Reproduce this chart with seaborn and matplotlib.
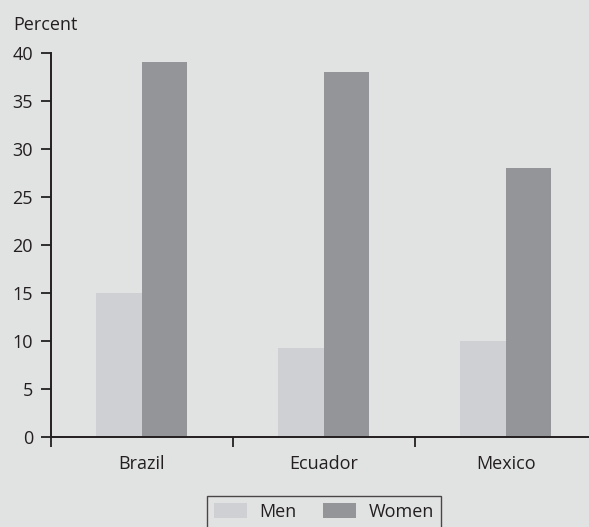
import matplotlib
matplotlib.use("Agg")
import matplotlib.pyplot as plt
import seaborn as sns
import pandas as pd

countries = ["Brazil", "Ecuador", "Mexico"]
groups = ["Men", "Women"]
men = [15, 9.3, 10]
women = [39, 38, 28]
yticks = [0, 5, 10, 15, 20, 25, 30, 35, 40]

bg = "#e1e3e2"
ink = "#231f20"
palette = {"Men": "#cfd0d3", "Women": "#939598"}
fs = 13

df = pd.DataFrame({
    "country": countries * 2,
    "sex": ["Men"] * len(countries) + ["Women"] * len(countries),
    "percent": men + women,
})

sns.set_style("ticks")
plt.rcParams["font.family"] = ["Open Sans", "DejaVu Sans"]
plt.rcParams["text.color"] = ink

fig = plt.figure(figsize=(5.89, 5.27), dpi=100, facecolor=bg)
ax = fig.add_axes([50.7 / 589, 90 / 527, 1 - 50.7 / 589, (437 - 52.7) / 527])
ax.set_facecolor(bg)

sns.barplot(data=df, x="country", y="percent", hue="sex", order=countries,
            hue_order=groups, palette=palette, width=0.5, saturation=1,
            linewidth=0, ax=ax, legend=True)

ax.set_xlim(-0.5, 2.458)
ax.set_ylim(0, 40)
ax.set_yticks(yticks)
ax.set_xlabel("")
ax.set_ylabel("")

# group separators as minor ticks, labels on major ticks
ax.set_xticks([-0.5, 0.5, 1.5], minor=True)
ax.tick_params(axis="x", which="major", length=0, pad=13, labelsize=fs, colors=ink)
ax.tick_params(axis="x", which="minor", length=7.2, width=1.3, direction="out", color=ink)
ax.tick_params(axis="y", length=7.2, width=1.3, direction="out", pad=5.5,
               labelsize=fs, colors=ink)

for s in ["top", "right"]:
    ax.spines[s].set_visible(False)
for s in ["left", "bottom"]:
    ax.spines[s].set_linewidth(1.4)
    ax.spines[s].set_color(ink)

fig.text(13 / 589, 1 - 30 / 527, "Percent", fontsize=fs, color=ink,
         ha="left", va="baseline")

handles, labels = ax.get_legend_handles_labels()
ax.get_legend().remove()
leg = fig.legend(handles, labels, loc="upper center",
                 bbox_to_anchor=(324 / 589, 1 - 495.7 / 527),
                 ncol=2, frameon=True, fancybox=False, fontsize=fs,
                 handlelength=1.8, handleheight=0.9, handletextpad=0.7,
                 columnspacing=1.5, borderpad=0.4, borderaxespad=0)
leg.get_frame().set_edgecolor(ink)
leg.get_frame().set_linewidth(1.0)
leg.get_frame().set_facecolor(bg)

fig.savefig("out.png", dpi=100, facecolor=bg)
